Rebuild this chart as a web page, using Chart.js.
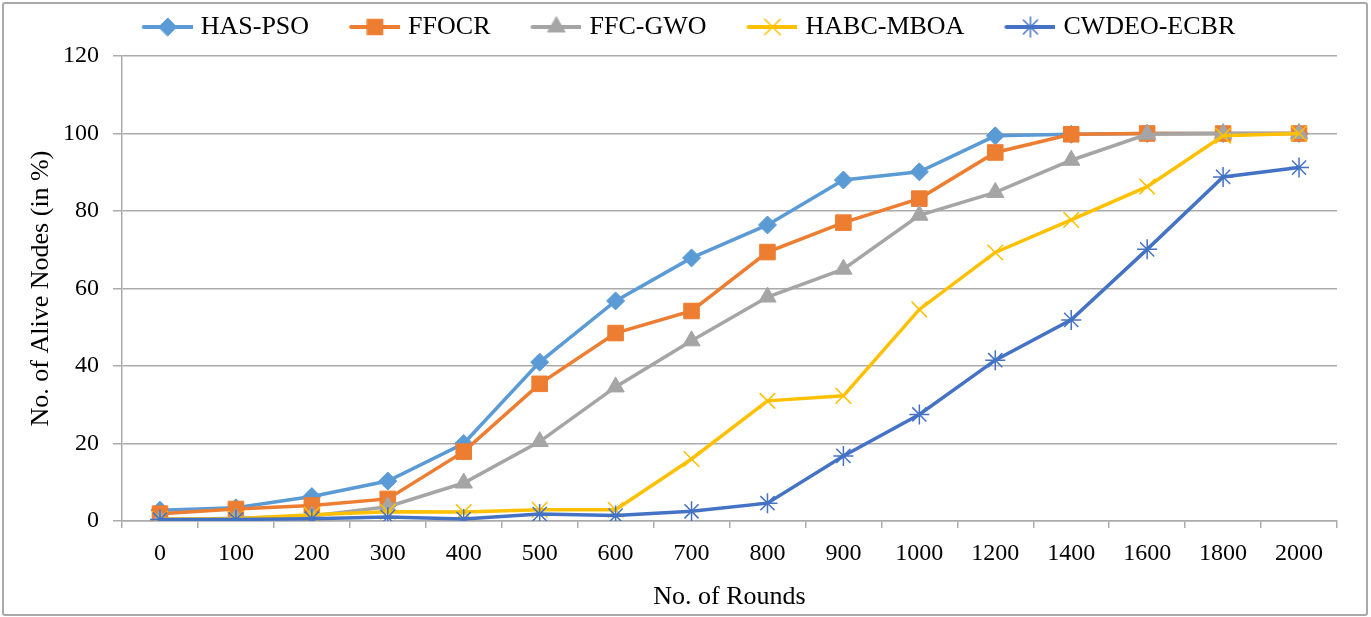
<!DOCTYPE html>
<html>
<head>
<meta charset="utf-8">
<script src="https://cdn.jsdelivr.net/npm/chart.js@4.4.0/dist/chart.umd.min.js"></script>
<style>
    html, body { margin: 0; padding: 0; background: #fff; }
    #wrap { position: relative; width: 1371px; height: 617px; }
    #frame {
        position: absolute; left: 2px; top: 2px; width: 1366px; height: 614px;
        box-sizing: border-box; border: 2px solid #a9a9a9; border-radius: 3px;
        pointer-events: none;
    }
</style>
</head>
<body>
<div id="wrap">
    <canvas id="aliveChart" width="1371" height="617"></canvas>
    <div id="frame"></div>
</div>
<script>
// ====== DATA ======
const rounds = ['0', '100', '200', '300', '400', '500', '600', '700', '800', '900', '1000', '1200', '1400', '1600', '1800', '2000'];

const hasPso    = [2.8, 3.4, 6.3, 10.3, 20.0, 41.0, 56.8, 67.9, 76.4, 88.0, 90.1, 99.4, 99.8, 100, 100, 100];
const ffocr     = [1.9, 3.1, 4.0, 5.7, 17.9, 35.4, 48.5, 54.2, 69.4, 77.0, 83.2, 95.1, 99.8, 100, 100, 100];
const ffcGwo    = [0.3, 0.7, 1.3, 3.7, 9.8, 20.5, 34.6, 46.5, 57.8, 65.0, 78.9, 84.8, 93.1, 99.8, 100, 100];
const habcMboa  = [0.5, 0.6, 1.6, 2.4, 2.3, 2.9, 2.9, 16.0, 31.0, 32.3, 54.6, 69.3, 77.7, 86.3, 99.4, 100];
const cwdeoEcbr = [0.4, 0.4, 0.6, 1.0, 0.5, 1.8, 1.4, 2.5, 4.6, 16.8, 27.5, 41.5, 51.9, 70.1, 88.8, 91.2];

const yTicks = [0, 20, 40, 60, 80, 100, 120];

const FONT = "'Liberation Serif', 'Times New Roman', serif";
const GRID = '#ababab';

// ====== SERIES STYLE ======
const series = [
    { label: 'HAS-PSO',    data: hasPso,    color: '#5b9bd5', style: 'rectRot',  radius: 9,  bw: 1 },
    { label: 'FFOCR',      data: ffocr,     color: '#ed7d31', style: 'rect',     radius: 11, bw: 1 },
    { label: 'FFC-GWO',    data: ffcGwo,    color: '#a5a5a5', style: 'triangle', radius: 10, bw: 1 },
    { label: 'HABC-MBOA',  data: habcMboa,  color: '#ffc000', style: 'crossRot', radius: 11, bw: 1.5 },
    { label: 'CWDEO-ECBR', data: cwdeoEcbr, color: '#4472c4', style: 'star',     radius: 10, bw: 1.5 }
];

// legend icon: short line with the marker in the middle (like Excel)
function makeIcon(s) {
    const c = document.createElement('canvas');
    c.width = 86; c.height = 26;
    const ctx = c.getContext('2d');
    ctx.strokeStyle = s.color;
    ctx.fillStyle = s.color;
    ctx.lineWidth = 4;
    ctx.lineCap = 'round';
    ctx.beginPath();
    ctx.moveTo(37, 13);
    ctx.lineTo(85, 13);
    ctx.stroke();
    ctx.lineWidth = s.bw;
    Chart.helpers.drawPoint(ctx, { pointStyle: s.style, radius: s.radius, borderWidth: s.bw, rotation: 0 }, 61, 13);
    return c;
}

// push the plot down a little below the legend
const legendGap = {
    id: 'legendGap',
    beforeLayout(chart) {
        const lg = chart.legend;
        if (lg && !lg._gapped) {
            const fit = lg.fit;
            lg.fit = function () { fit.call(this); this.height += 6; };
            lg._gapped = true;
        }
    }
};

// ====== CHART ======
document.addEventListener('DOMContentLoaded', function () {
    Chart.defaults.font.family = FONT;
    Chart.defaults.color = '#000';

    const icons = series.map(makeIcon);

    const datasets = series.map((s, i) => ({
        label: s.label,
        data: s.data,
        borderColor: s.color,
        backgroundColor: s.color,
        borderWidth: 3.5,
        pointStyle: s.style,
        pointRadius: s.radius,
        pointHoverRadius: s.radius,
        pointBorderWidth: s.bw,
        pointBackgroundColor: s.color,
        pointBorderColor: s.color,
        tension: 0,
        fill: false,
        order: series.length - i
    }));

    new Chart(document.getElementById('aliveChart'), {
        type: 'line',
        data: { labels: rounds, datasets: datasets },
        plugins: [legendGap],
        options: {
            responsive: false,
            animation: false,
            layout: { padding: { top: 4, left: 10, right: 34, bottom: 0 } },
            plugins: {
                tooltip: { enabled: false },
                legend: {
                    position: 'top',
                    labels: {
                        usePointStyle: true,
                        pointStyleWidth: 76,
                        padding: 10,
                        font: { size: 26 },
                        color: '#000',
                        sort: (a, b) => a.datasetIndex - b.datasetIndex,
                        generateLabels: function (chart) {
                            const items = Chart.defaults.plugins.legend.labels.generateLabels(chart);
                            items.forEach(it => { it.pointStyle = icons[it.datasetIndex]; });
                            return items;
                        }
                    }
                }
            },
            scales: {
                x: {
                    offset: true,
                    grid: { offset: true, drawOnChartArea: false, drawTicks: true, tickLength: 7, color: GRID, lineWidth: 1.5 },
                    border: { display: true, color: GRID, width: 1.5 },
                    ticks: { font: { size: 24 }, padding: 11, maxRotation: 0, autoSkip: false },
                    title: { display: true, text: 'No. of Rounds', font: { size: 26 }, padding: 4 },
                    afterFit: function (scale) { scale.height = 96; }
                },
                y: {
                    min: 0,
                    max: 120,
                    afterBuildTicks: function (scale) { scale.ticks = yTicks.map(v => ({ value: v })); },
                    grid: { color: GRID, lineWidth: 1.5, tickLength: 9 },
                    border: { display: true, color: GRID, width: 1.5 },
                    ticks: { font: { size: 24 }, padding: 14 },
                    title: { display: true, text: 'No. of Alive Nodes (in %)', font: { size: 26 }, padding: { top: 16, bottom: 4 } },
                    afterFit: function (scale) { scale.width = 112; }
                }
            }
        }
    });
});
</script>
</body>
</html>
